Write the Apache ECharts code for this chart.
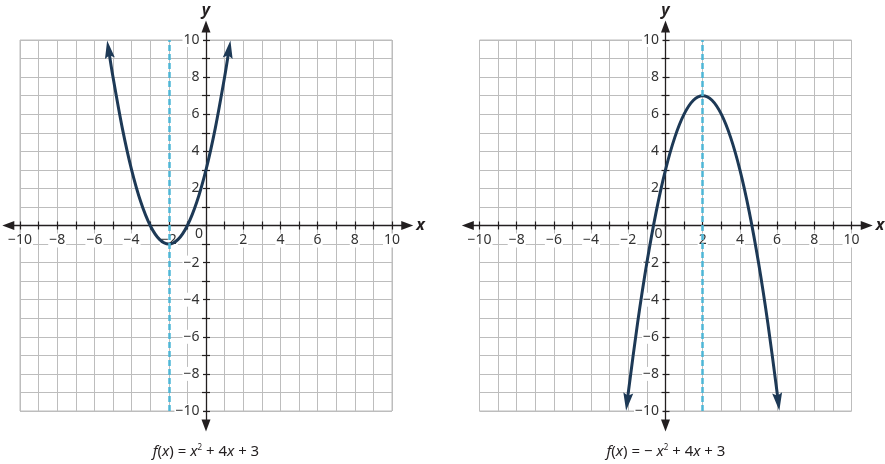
<!DOCTYPE html>
<html><head><meta charset="utf-8">
<script src="https://cdn.jsdelivr.net/npm/echarts@6/dist/echarts.min.js"></script>
<style>html,body{margin:0;padding:0;background:#fff}#c{width:885px;height:464px}</style>
</head><body><div id="c"></div>
<script>
// ---- data ----
const tickValues = [-10,-9,-8,-7,-6,-5,-4,-3,-2,-1,0,1,2,3,4,5,6,7,8,9,10];
const xLabelValues = [-10,-8,-6,-4,-2,2,4,6,8,10];
const yLabelValues = [-10,-8,-6,-4,-2,0,2,4,6,8,10];

// f(x) = x^2 + 4x + 3
const curve1X = [-5.24, -5, -4.5, -4, -3.5, -3, -2.5, -2, -1.5, -1, -0.5, 0, 0.5, 1, 1.24];
const curve1Y = [9.5, 8, 5.25, 3, 1.25, 0, -0.75, -1, -0.75, 0, 1.25, 3, 5.25, 8, 9.5];
const curve1ArrowRotate = [8.8, -8.8];
const axisOfSymmetry1 = -2;

// f(x) = -x^2 + 4x + 3
const curve2X = [-2.06, -2, -1.5, -1, -0.5, 0, 0.5, 1, 1.5, 2, 2.5, 3, 3.5, 4, 4.5, 5, 5.5, 6, 6.06];
const curve2Y = [-9.5, -9, -5.25, -2, 0.75, 3, 4.75, 6, 6.75, 7, 6.75, 6, 4.75, 3, 0.75, -2, -5.25, -9, -9.5];
const curve2ArrowRotate = [173, 187];
const axisOfSymmetry2 = 2;

const captions = [
  '{i|f}({i|x}) = {i|x}{s|2} + 4{i|x} + 3',
  '{i|f}({i|x}) = − {i|x}{s|2} + 4{i|x} + 3'
];

// ---- styling / layout ----
const FONT = "'Noto Sans', 'Open Sans', sans-serif";
const AXIS_COLOR = '#231f20';
const GRID_COLOR = '#bdbdbd';
const CURVE_COLOR = '#1d3956';
const DASH_COLOR = '#4db6d6';
const LABEL_COLOR = '#333';
const ARROW_PATH = 'path://M5,0 L10,18 L5,15 L0,18 Z';

const panels = [
  {innerLeft: 20, xs: curve1X, ys: curve1Y, rot: curve1ArrowRotate, sym: axisOfSymmetry1, captionX: 206, caption: captions[0]},
  {innerLeft: 479.5, xs: curve2X, ys: curve2Y, rot: curve2ArrowRotate, sym: axisOfSymmetry2, captionX: 666, caption: captions[1]}
];
const INNER_TOP = 40, INNER_W = 372, INNER_H = 371;
const PX_X = INNER_W / 20, PX_Y = INNER_H / 20;
const OX_MIN = -10.63, OX_MAX = 10.82, OY_MIN = -10.78, OY_MAX = 10.73;

const fmt = v => v < 0 ? '\u2212' + (-v) : String(v);

const grids = [], xAxes = [], yAxes = [], series = [], titles = [];
const xRich = {
  n: {backgroundColor: '#fff', padding: [0, 1], fontSize: 14, fontFamily: FONT, color: LABEL_COLOR}
};
const yRich = {
  n: {backgroundColor: '#fff', padding: [0, 3.5, 0, 1], fontSize: 14, fontFamily: FONT, color: LABEL_COLOR},
  z: {padding: [18, 0, 0, 0], fontSize: 14, fontFamily: FONT, color: LABEL_COLOR}
};
const nameStyle = {fontStyle: 'italic', fontWeight: 'bold', fontSize: 16, color: AXIS_COLOR, fontFamily: FONT};
const hiddenAxis = gi => ({gridIndex: gi, type: 'value', min: 0, max: 1, show: false,
  axisLine: {show: false, onZero: false}, splitLine: {show: false}, axisTick: {show: false}, axisLabel: {show: false}});

panels.forEach((p, i) => {
  const zeroX = p.innerLeft + 10 * PX_X;
  const zeroY = INNER_TOP + 10 * PX_Y;
  const outerTop = INNER_TOP - (OY_MAX - 10) * PX_Y;
  const outerLeft = p.innerLeft - (-10 - OX_MIN) * PX_X;
  // grid i: lattice
  grids[i] = {left: p.innerLeft, top: INNER_TOP, width: INNER_W, height: INNER_H,
    show: true, borderColor: GRID_COLOR, borderWidth: 1, containLabel: false, outerBoundsMode: 'none'};
  // grid i+2: horizontal axis (bottom edge on y = 0)
  grids[i + 2] = {left: outerLeft, top: outerTop, width: (OX_MAX - OX_MIN) * PX_X,
    height: zeroY - outerTop, containLabel: false, outerBoundsMode: 'none'};
  // grid i+4: vertical axis (left edge on x = 0)
  grids[i + 4] = {left: zeroX, top: outerTop, width: 100,
    height: (OY_MAX - OY_MIN) * PX_Y, containLabel: false, outerBoundsMode: 'none'};

  // lattice axes with inward ticks
  xAxes[i] = {gridIndex: i, type: 'value', min: -10, max: 10, interval: 1, z: 0,
    axisLine: {show: false, onZero: true},
    axisTick: {show: true, inside: true, length: 4, lineStyle: {color: AXIS_COLOR, width: 1.2}},
    axisLabel: {show: false},
    splitLine: {show: true, lineStyle: {color: GRID_COLOR, width: 1}}};
  yAxes[i] = {gridIndex: i, type: 'value', min: -10, max: 10, interval: 1, z: 0,
    axisLine: {show: false, onZero: true},
    axisTick: {show: true, inside: true, length: 4, lineStyle: {color: AXIS_COLOR, width: 1.2}},
    axisLabel: {show: false},
    splitLine: {show: true, lineStyle: {color: GRID_COLOR, width: 1}}};

  // horizontal axis with arrows
  xAxes[i + 2] = {gridIndex: i + 2, type: 'value', position: 'bottom', min: OX_MIN, max: OX_MAX, z: 1,
    name: 'x', nameLocation: 'end', nameGap: 9, nameTextStyle: nameStyle,
    axisLine: {show: true, onZero: false, symbol: ['triangle', 'triangle'], symbolSize: [9, 12],
      lineStyle: {color: AXIS_COLOR, width: 1.3}},
    axisTick: {show: true, inside: false, length: 4, customValues: tickValues, lineStyle: {color: AXIS_COLOR, width: 1.2}},
    axisLabel: {show: true, customValues: xLabelValues, margin: 8,
      formatter: v => '{n|' + fmt(v) + '}', rich: xRich},
    splitLine: {show: false}};
  yAxes[i + 2] = hiddenAxis(i + 2);

  // vertical axis with arrows
  xAxes[i + 4] = hiddenAxis(i + 4);
  yAxes[i + 4] = {gridIndex: i + 4, type: 'value', position: 'left', min: OY_MIN, max: OY_MAX, z: 1,
    name: 'y', nameLocation: 'end', nameGap: 8, nameTextStyle: nameStyle,
    axisLine: {show: true, onZero: false, symbol: ['triangle', 'triangle'], symbolSize: [9, 12],
      lineStyle: {color: AXIS_COLOR, width: 1.3}},
    axisTick: {show: true, inside: false, length: 4, customValues: tickValues, lineStyle: {color: AXIS_COLOR, width: 1.2}},
    axisLabel: {show: true, customValues: yLabelValues, margin: 3,
      formatter: v => v === 0 ? '{z|0}' : '{n|' + fmt(v) + '}', rich: yRich},
    splitLine: {show: false}};

  // axis of symmetry (dashed)
  series.push({type: 'line', xAxisIndex: i, yAxisIndex: i, data: [], z: 2, silent: true,
    markLine: {silent: true, symbol: ['none', 'none'], label: {show: false}, animation: false,
      lineStyle: {type: [6, 3], color: DASH_COLOR, width: 2.5},
      emphasis: {disabled: true},
      data: [{xAxis: p.sym}]}});
  // parabola with arrowheads
  const last = p.xs.length - 1;
  series.push({type: 'line', xAxisIndex: i, yAxisIndex: i, smooth: 0.3, clip: false, z: 3,
    showSymbol: true, silent: true,
    lineStyle: {color: CURVE_COLOR, width: 3},
    itemStyle: {color: CURVE_COLOR},
    data: p.xs.map((x, k) => {
      const item = {value: [x, p.ys[k]], symbol: 'none'};
      if (k === 0 || k === last) {
        item.symbol = ARROW_PATH;
        item.symbolKeepAspect = false;
        item.symbolSize = [10, 18];
        item.symbolRotate = k === 0 ? p.rot[0] : p.rot[1];
      }
      return item;
    })});

  titles.push({text: p.caption, left: p.captionX, top: 444, textAlign: 'center', padding: 0,
    textStyle: {fontSize: 15, fontWeight: 'normal', color: AXIS_COLOR, fontFamily: FONT,
      rich: {
        i: {fontStyle: 'italic', fontSize: 15, color: AXIS_COLOR, fontFamily: FONT},
        s: {fontSize: 8, verticalAlign: 'top', color: AXIS_COLOR, fontFamily: FONT}
      }}});
});

const chart = echarts.init(document.getElementById('c'), null, {renderer: 'canvas'});
chart.setOption({
  animation: false,
  backgroundColor: '#fff',
  title: titles,
  grid: grids,
  xAxis: xAxes,
  yAxis: yAxes,
  series: series
});
</script>
</body></html>
